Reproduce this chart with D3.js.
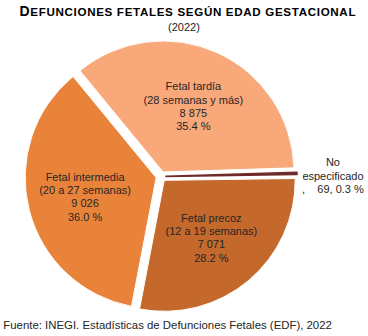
<!DOCTYPE html>
<html><head><meta charset="utf-8">
<script src="https://cdn.jsdelivr.net/npm/d3@7"></script>
<style>
html,body{margin:0;padding:0;background:#fff;}
svg{display:block;font-family:"Liberation Sans",Arial,sans-serif;}
</style></head>
<body>
<script>
const categories = ["Fetal precoz", "Fetal intermedia", "Fetal tardía", "No especificado"];
const subtitles = ["(12 a 19 semanas)", "(20 a 27 semanas)", "(28 semanas y más)", ""];
const values = [7071, 9026, 8875, 69];
const colors = ["#C4682C", "#EA833A", "#F9A87A", "#6F2B2B"];
const title = "Defunciones fetales según edad gestacional";
const subtitle = "(2022)";
const source = "Fuente: INEGI. Estadísticas de Defunciones Fetales (EDF), 2022";

const W = 368, H = 336;
const cx = 161, cy = 176.5, R = 131, explode = 5;
const startDeg = 89.2;

const svg = d3.select("body").append("svg").attr("width", W).attr("height", H);

const total = d3.sum(values);
const fmt = d3.formatLocale({decimal: ".", thousands: " ", grouping: [3]}).format(",d");

const pie = d3.pie().sort(null).value(d => d.v)
  .startAngle(startDeg * Math.PI / 180)
  .endAngle(startDeg * Math.PI / 180 + 2 * Math.PI);
const data = values.map((v, i) => ({v, i}));
const arcs = pie(data);
const arc = d3.arc().innerRadius(0).outerRadius(R);
const labelArc = d3.arc().innerRadius(R * 0.56).outerRadius(R * 0.56);

const g = svg.append("g").attr("transform", `translate(${cx},${cy})`);

function offset(a, d) {
  const m = (a.startAngle + a.endAngle) / 2;
  return [Math.sin(m) * d, -Math.cos(m) * d];
}

const small = d => d.data.v / total < 0.01;

g.selectAll("path.slice").data(arcs).join("path")
  .attr("class", "slice")
  .attr("d", arc)
  .attr("fill", d => colors[d.data.i])
  .attr("stroke", d => small(d) ? colors[d.data.i] : "#fff")
  .attr("stroke-width", d => small(d) ? 1.6 : 1)
  .attr("stroke-linejoin", "round")
  .attr("transform", d => { const o = offset(d, explode); return `translate(${o[0]},${o[1]})`; });

// inside labels
const lineH = 13.3;
arcs.forEach(a => {
  const i = a.data.i;
  const pct = (a.data.v / total * 100).toFixed(1) + " %";
  if (subtitles[i] !== "") {
    const c = labelArc.centroid(a);
    const o = offset(a, explode);
    const lines = [categories[i], subtitles[i], fmt(a.data.v), pct];
    const t = g.append("text")
      .attr("text-anchor", "middle")
      .attr("font-size", 11)
      .attr("fill", "#262626");
    lines.forEach((l, k) => {
      t.append("tspan").attr("x", c[0] + o[0])
        .attr("y", c[1] + o[1] + (k - 1.5) * lineH + 5)
        .text(l);
    });
  } else {
    // outside label
    const o = offset(a, R + explode + 36);
    const words = categories[i].split(" ");
    const lines = [words[0], words[1], ",    " + fmt(a.data.v) + ", " + pct];
    const t = g.append("text")
      .attr("text-anchor", "middle")
      .attr("font-size", 11)
      .attr("fill", "#262626")
      .style("white-space", "pre");
    lines.forEach((l, k) => {
      t.append("tspan").attr("x", o[0])
        .attr("y", o[1] + (k - 1) * lineH + 7)
        .style("white-space", "pre")
        .text(l);
    });
  }
});

const tt = svg.append("text")
  .attr("x", 19.5).attr("y", 16)
  .attr("font-weight", "bold")
  .attr("fill", "#000")
  .attr("textLength", 336)
  .attr("lengthAdjust", "spacing");
tt.append("tspan").attr("font-size", 14).text(title.charAt(0).toUpperCase());
tt.append("tspan").attr("font-size", 11.6).text(title.slice(1).toUpperCase());

svg.append("text")
  .attr("x", W / 2).attr("y", 31)
  .attr("text-anchor", "middle")
  .attr("font-size", 11)
  .attr("fill", "#262626")
  .text(subtitle);

svg.append("text")
  .attr("x", 3.3).attr("y", 329)
  .attr("font-size", 11.4)
  .attr("fill", "#262626")
  .text(source);
</script>
</body></html>
